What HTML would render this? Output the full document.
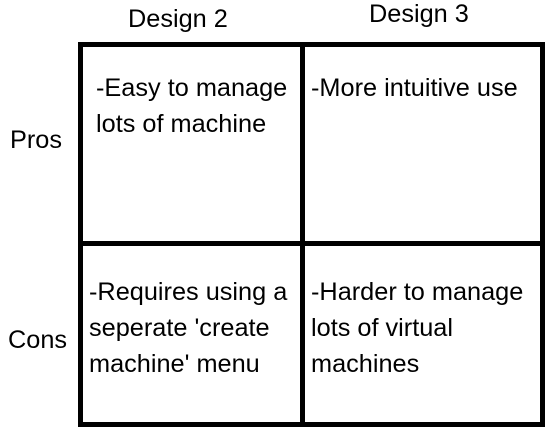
<!DOCTYPE html>
<html><head><style>
body{margin:0;width:553px;height:433px;background:#fff;position:relative;overflow:hidden;font-family:"Liberation Sans",sans-serif;color:#000}
.b{position:absolute;background:#000}
.t{position:absolute;font-size:25.3px;line-height:36px;white-space:nowrap}
</style></head><body>
<div class="b" style="left:78px;top:42px;width:467px;height:5px"></div>
<div class="b" style="left:78px;top:422px;width:467px;height:5px"></div>
<div class="b" style="left:78px;top:42px;width:5px;height:385px"></div>
<div class="b" style="left:540px;top:42px;width:5px;height:385px"></div>
<div class="b" style="left:300px;top:42px;width:5px;height:385px"></div>
<div class="b" style="left:78px;top:241px;width:467px;height:5px"></div>

<div class="t" style="left:128px;top:1px">Design 2</div>
<div class="t" style="left:369px;top:-4px">Design 3</div>
<div class="t" style="left:10px;top:122px">Pros</div>
<div class="t" style="left:8px;top:322px">Cons</div>

<div class="t" style="left:96px;top:70px">-Easy to manage<br>lots of machine</div>
<div class="t" style="left:311px;top:70px">-More intuitive use</div>
<div class="t" style="left:89px;top:274px">-Requires using a<br>seperate 'create<br>machine' menu</div>
<div class="t" style="left:311px;top:274px">-Harder to manage<br>lots of virtual<br>machines</div>
</body></html>
